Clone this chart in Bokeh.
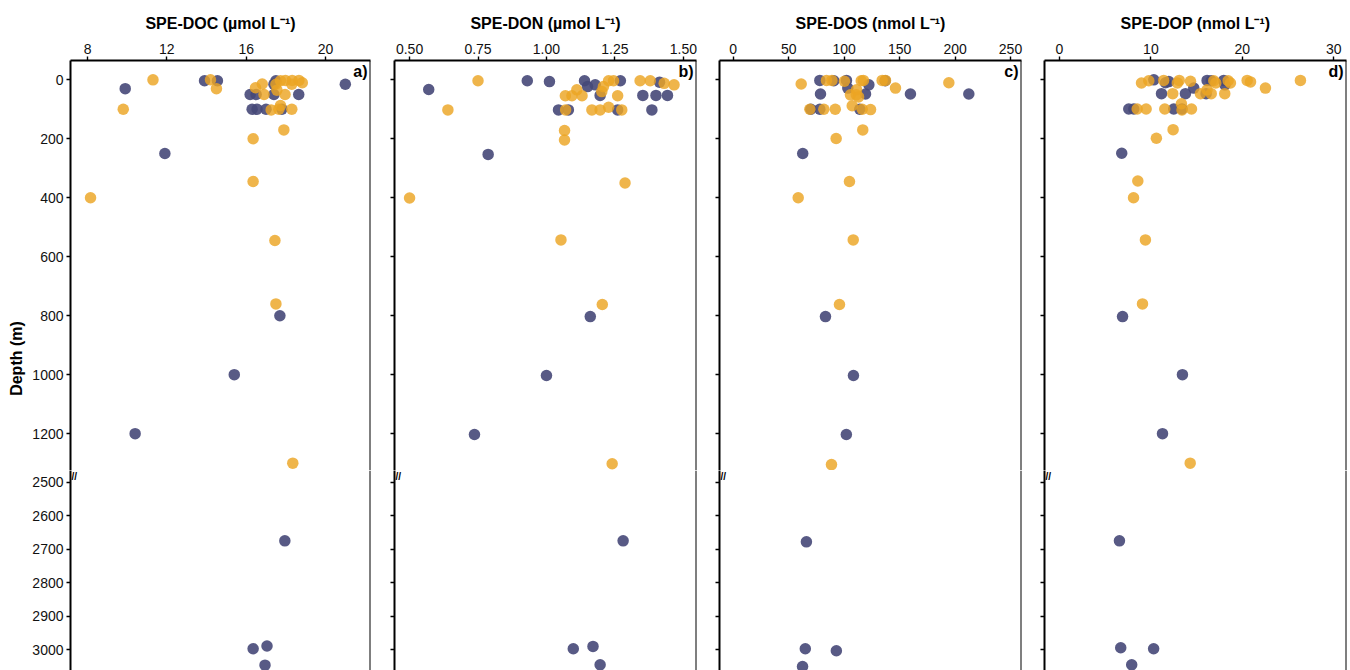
import math
from bokeh.plotting import figure
from bokeh.models import Range1d, FixedTicker, Label, Span, PrintfTickFormatter
from bokeh.layouts import row, column
from bokeh.embed import file_html
from bokeh.resources import INLINE

# ---------------- data ----------------
# SPE-DOC (µmol L-1)
doc_navy_val = [13.9, 14.55, 17.5, 17.4, 21.0, 9.9, 16.2, 16.5, 17.4, 18.65, 16.3, 16.55, 17.0, 17.8,
                11.9, 17.7, 15.4, 10.4, 17.95, 16.35, 17.05, 16.95]
doc_navy_depth = [3, 3, 3, 15, 15, 30, 50, 50, 50, 50, 100, 100, 100, 100,
                  250, 800, 1000, 1200, 2675, 2997, 2989, 3046]
doc_orange_val = [11.3, 14.2, 17.73, 17.98, 18.32, 18.66, 18.83, 16.81, 17.5, 18.3, 16.47, 14.5, 17.55,
                  16.9, 17.96, 9.8, 17.73, 17.26, 17.65, 18.3, 17.9, 16.35, 16.35, 8.15, 17.45, 17.5, 18.35]
doc_orange_depth = [0, 0, 3, 2, 2, 2, 10, 14, 15, 15, 27, 30, 35,
                    50, 50, 100, 87, 102, 100, 100, 170, 200, 345, 400, 545, 760, 1300]

# SPE-DON (µmol L-1)
don_navy_val = [0.93, 1.011, 1.139, 1.27, 1.15, 1.178, 1.413, 0.57, 1.196, 1.352, 1.40, 1.442,
                1.044, 1.08, 1.26, 1.385, 0.787, 1.16, 1.0, 0.737, 1.28, 1.098, 1.17, 1.196]
don_navy_depth = [3, 6, 3, 3, 23, 17, 8, 33, 53, 53, 53, 53,
                  102, 102, 102, 102, 253, 803, 1003, 1203, 2675, 2997, 2990, 3045]
don_orange_val = [0.75, 1.227, 1.245, 1.208, 1.202, 1.342, 1.379, 1.43, 1.466, 1.111, 1.069, 1.093,
                  1.13, 1.26, 1.07, 1.166, 1.196, 1.227, 1.275, 0.64, 1.066, 1.066, 0.50, 1.287,
                  1.053, 1.204, 1.24]
don_orange_depth = [3, 3, 3, 23, 40, 3, 3, 12, 17, 34, 54, 54,
                    54, 54, 102, 102, 102, 93, 102, 102, 172, 204, 401, 350,
                    543, 762, 1302]

# SPE-DOS (nmol L-1)
dos_navy_val = [78.1, 90.7, 102.1, 137.0, 122.3, 103.3, 119.3, 78.7, 159.8, 212.4, 70.0, 78.1, 114.1,
                62.7, 83.2, 108.4, 102.0, 66.0, 65.0, 93.0, 62.5]
dos_navy_depth = [2, 3, 2, 3, 17, 28, 48, 48, 48, 48, 100, 100, 100,
                  250, 803, 1003, 1203, 2678, 2997, 3003, 3050]
dos_orange_val = [61.3, 84.1, 89.0, 100.3, 115.4, 117.4, 134.3, 137.3, 194.4, 146.3, 111.2, 105.7,
                  111.0, 113.0, 69.1, 81.7, 92.0, 107.3, 116.3, 123.8, 116.8, 92.8, 104.8, 58.6,
                  108.2, 95.8, 88.6]
dos_orange_depth = [14, 2, 2, 5, 3, 2, 2, 2, 10, 28, 34, 51,
                    51, 58, 100, 100, 100, 88, 100, 101, 170, 199, 345, 400,
                    543, 762, 1305]

# SPE-DOP (nmol L-1)
dop_navy_val = [10.32, 11.96, 11.6, 16.15, 16.6, 17.97, 18.1, 11.16, 13.78, 14.69, 16.04, 7.58, 8.13,
                12.5, 13.4, 6.81, 6.9, 13.45, 11.27, 6.56, 6.7, 10.3, 7.9]
dop_navy_depth = [0, 6, 10, 2, 3, 2, 17, 47, 47, 28, 47, 99, 99,
                  99, 99, 249, 803, 1000, 1200, 2675, 2994, 2997, 3045]
dop_orange_val = [8.97, 9.77, 11.4, 13.1, 12.9, 14.33, 16.88, 17.1, 18.45, 18.7, 20.53, 20.9, 22.53,
                  26.36, 12.39, 15.42, 16.15, 16.6, 18.08, 8.5, 9.48, 11.52, 13.34, 13.4, 14.44,
                  12.43, 10.6, 8.57, 8.1, 9.4, 9.08, 14.3]
dop_orange_depth = [11, 3, 2, 2, 11, 5, 3, 11, 3, 11, 2, 7, 28,
                    2, 47, 47, 34, 47, 47, 99, 99, 99, 81, 102, 99,
                    169, 198, 343, 400, 543, 760, 1300]

titles = ["SPE-DOC (µmol L⁻¹)", "SPE-DON (µmol L⁻¹)", "SPE-DOS (nmol L⁻¹)", "SPE-DOP (nmol L⁻¹)"]
tags = ["a)", "b)", "c)", "d)"]
x_ticks = [[8, 12, 16, 20], [0.5, 0.75, 1.0, 1.25, 1.5], [0, 50, 100, 150, 200, 250], [0, 10, 20, 30]]
top_depth_ticks = [0, 200, 400, 600, 800, 1000, 1200]
bottom_depth_ticks = [2500, 2600, 2700, 2800, 2900, 3000]
y_label = "Depth (m)"

series = [
    (doc_navy_val, doc_navy_depth, doc_orange_val, doc_orange_depth),
    (don_navy_val, don_navy_depth, don_orange_val, don_orange_depth),
    (dos_navy_val, dos_navy_depth, dos_orange_val, dos_orange_depth),
    (dop_navy_val, dop_navy_depth, dop_orange_val, dop_orange_depth),
]

# ---------------- styling / layout ----------------
FONT = "Liberation Sans"
NAVY = "#464878"
ORANGE = "#eba523"
LINE_W = 2
x_limits = [(7.14, 22.27), (0.445, 1.548), (-12.35, 259.9), (-1.64, 31.4)]
x_formats = ["%d", "%.2f", "%d", "%d"]
frame_w = [300, 302, 302, 302]
border_l = [42, 20, 20, 20]
border_r = [4, 3, 3, 3]
LABEL_W = 28
TOP_H, BOT_H = 470, 200
TOP_BORDER = 60


def style_axis(ax, ticks, show_labels):
    ax.ticker = FixedTicker(ticks=ticks)
    ax.axis_line_color = "black"
    ax.axis_line_width = LINE_W
    ax.major_tick_line_color = "black"
    ax.major_tick_line_width = 1.4
    ax.major_tick_out = 4
    ax.major_tick_in = 0
    ax.minor_tick_out = 0
    ax.minor_tick_in = 0
    ax.major_label_text_font = FONT
    ax.major_label_text_color = "#111111"
    ax.major_label_text_font_size = "14px"
    ax.major_label_standoff = 3
    if not show_labels:
        ax.major_label_overrides = {t: "" for t in ticks}
        ax.major_label_standoff = 0


def add_points(p, nv, nd, ov, od):
    p.scatter(nv, nd, size=11.5, fill_color=NAVY, fill_alpha=0.9, line_color=None)
    p.scatter(ov, od, size=11.5, fill_color=ORANGE, fill_alpha=0.82, line_color=None)


def text_label(**kw):
    base = dict(text_font=FONT, text_font_style="bold", text_color="black")
    base.update(kw)
    return Label(**base)


# narrow strip holding the shared y-axis title
strip = figure(width=LABEL_W, height=TOP_H + BOT_H, x_range=Range1d(0, 1), y_range=Range1d(0, 1),
               x_axis_location=None, y_axis_location=None,
               min_border_left=0, min_border_right=0, min_border_top=0, min_border_bottom=0,
               output_backend="svg", toolbar_location=None)
strip.xgrid.visible = False
strip.ygrid.visible = False
strip.outline_line_color = None
strip.add_layout(text_label(x=16 / LABEL_W, y=1 - 358 / (TOP_H + BOT_H), text=y_label,
                            angle=math.pi / 2, text_align="center", text_baseline="middle",
                            text_font_size="16px"))

cols = [strip]
for i in range(4):
    xr = Range1d(*x_limits[i])
    yr_top = Range1d(1325, -65.5)   # start = bottom of the upper segment, end = its top
    yr_bot = Range1d(3062, 2465)    # start = bottom, end = top of the lower segment
    nv, nd, ov, od = series[i]

    top = figure(width=border_l[i] + frame_w[i] + border_r[i], height=TOP_H,
                 x_range=xr, y_range=yr_top, x_axis_location="above",
                 min_border_left=border_l[i], min_border_right=border_r[i],
                 min_border_top=TOP_BORDER, min_border_bottom=0,
                 output_backend="svg", toolbar_location=None)
    bot = figure(width=border_l[i] + frame_w[i] + border_r[i], height=BOT_H,
                 x_range=xr, y_range=yr_bot, x_axis_location=None,
                 min_border_left=border_l[i], min_border_right=border_r[i],
                 min_border_top=0, min_border_bottom=0,
                 output_backend="svg", toolbar_location=None)

    for p in (top, bot):
        p.xgrid.visible = False
        p.ygrid.visible = False
        p.outline_line_color = None
        p.background_fill_color = "white"
        p.border_fill_color = "white"
        p.add_layout(Span(location=xr.end, dimension="height", line_color="black", line_width=LINE_W))

    style_axis(top.yaxis[0], top_depth_ticks, i == 0)
    style_axis(bot.yaxis[0], bottom_depth_ticks, i == 0)
    style_axis(top.xaxis[0], x_ticks[i], True)
    top.xaxis[0].formatter = PrintfTickFormatter(format=x_formats[i])

    top.title.text = titles[i]
    top.title.align = "center"
    top.title.text_font = FONT
    top.title.text_font_size = "16px"
    top.title.text_font_style = "bold"
    top.title.text_color = "black"
    top.title.standoff = 17

    add_points(top, nv, nd, ov, od)
    add_points(bot, nv, nd, ov, od)

    top.add_layout(text_label(x=xr.end, y=yr_top.end, x_offset=-3, y_offset=-2,
                              text=tags[i], text_align="right", text_baseline="top",
                              text_font_size="16px"))

    # axis-break mark just inside the lower segment
    bot.add_layout(text_label(x=xr.start, y=yr_bot.end, x_offset=1, y_offset=0, text="//",
                              text_align="left", text_baseline="top", text_font_size="10px"))

    cols.append(column(top, bot))

layout = row(*cols)
open("out.html", "w").write(file_html(layout, INLINE))
